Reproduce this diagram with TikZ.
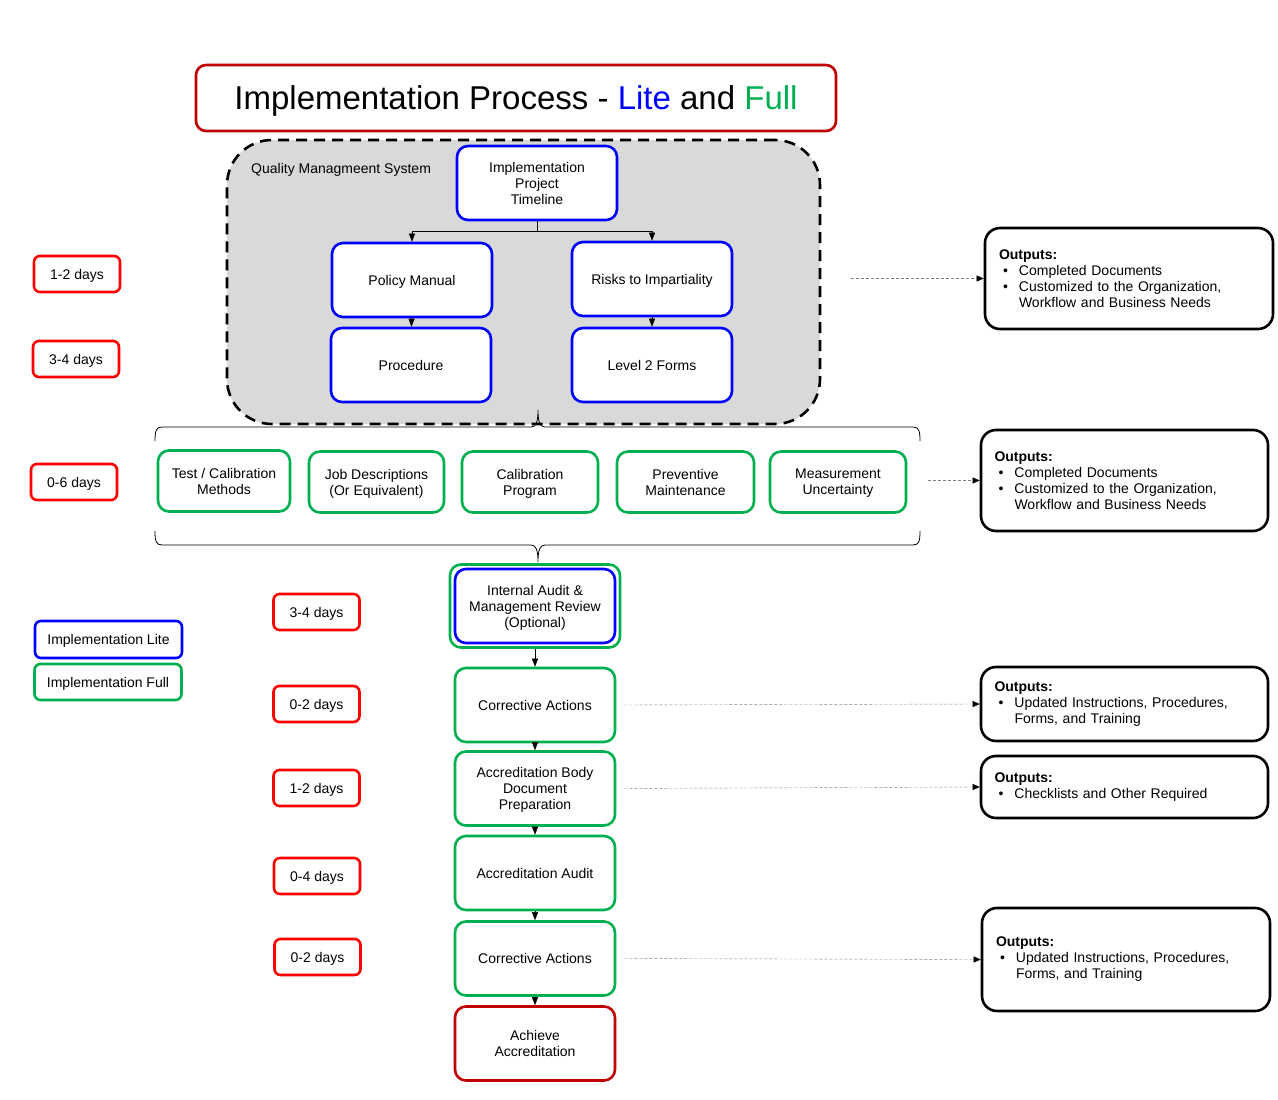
\documentclass[tikz,border=0pt]{standalone}
\usepackage{fontspec}
\setmainfont{Liberation Sans}
\usetikzlibrary{arrows.meta,positioning,calc}
\usepackage{xcolor}

\definecolor{liteblue}{HTML}{0000FF}
\definecolor{fullgreen}{HTML}{00B050}
\definecolor{titlered}{HTML}{C00000}
\definecolor{dayred}{HTML}{FF0000}
\definecolor{qmsgray}{HTML}{D9D9D9}

\newcommand{\outhead}{\textbf{Outputs:}}
\newcommand{\outbullet}{\hspace*{4pt}\makebox[16pt][l]{\textbullet}}
\newcommand{\outcont}{\hspace*{20pt}}

\begin{document}
\begin{tikzpicture}[x=1pt, y=-1pt, font=\fontsize{14}{16}\selectfont,
  >={Triangle[length=8pt,width=6pt]},
  litebox/.style={draw=liteblue, line width=2.6pt, rounded corners=11pt, fill=white,
    align=center, minimum width=160pt, minimum height=74pt, inner sep=2pt, text depth=0pt},
  fullbox/.style={litebox, draw=fullgreen},
  goalbox/.style={litebox, draw=titlered},
  rowbox/.style={fullbox, minimum width=136pt, minimum height=61pt},
  daybox/.style={draw=dayred, line width=2.6pt, rounded corners=6pt, fill=white,
    minimum width=86pt, minimum height=36pt, inner sep=2pt, text depth=0pt},
  keybox/.style={line width=2.6pt, rounded corners=6pt, fill=white,
    minimum width=147pt, minimum height=37pt, inner sep=2pt, text depth=0pt},
  outbox/.style={draw=black, line width=2.6pt, rounded corners=15pt, fill=white,
    minimum width=288pt, text width=260pt, align=left, inner sep=0pt},
  flow/.style={->, thin, black},
  outlink/.style={draw=gray, thin, dash pattern=on 3pt off 2pt,
    -{Triangle[black,length=7pt,width=6pt]}},
  bracket/.style={draw=black, line width=0.8pt}]

  \useasboundingbox (0,0) rectangle (1278,1100);

  %% Title
  \node[draw=titlered, line width=2.6pt, rounded corners=10pt, minimum width=640pt,
    minimum height=66pt, text depth=0pt, font=\fontsize{33}{40}\selectfont] (title) at (516,98)
    {Implementation Process - \textcolor{liteblue}{Lite} and \textcolor{fullgreen}{Full}};

  %% Quality management system (Lite part)
  \node[draw=black, fill=qmsgray, line width=2.6pt, dash pattern=on 11pt off 7pt,
    rounded corners=45pt, minimum width=593pt, minimum height=284pt] (qms) at (523.5,282) {};
  \node[anchor=west, inner sep=0pt, text depth=0pt] (qmslabel) at (251,168) {Quality Managmeent System};

  \node[litebox] (timeline) at (537,183) {Implementation\\Project\\Timeline};
  \node[litebox] (policy) at (412,280) {Policy Manual};
  \node[litebox] (risks) at (652,279) {Risks to Impartiality};
  \node[litebox] (proc) at (411,365) {Procedure};
  \node[litebox] (forms) at (652,365) {Level 2 Forms};

  \draw[flow] (timeline.south) -- ++(0,10) -| (policy.north);
  \draw[flow] (timeline.south) -- ++(0,10) -| (risks.north);
  \draw[flow] (policy) -- (proc);
  \draw[flow] (risks) -- (forms);

  %% Full part: supporting documents
  \node[rowbox, minimum width=132pt] (methods) at (224,481) {Test / Calibration\\Methods};
  \node[rowbox, minimum width=135pt] (jobs) at (376.5,482) {Job Descriptions\\(Or Equivalent)};
  \node[rowbox] (calprog) at (530,482) {Calibration\\Program};
  \node[rowbox, minimum width=137pt] (maint) at (685.5,482) {Preventive\\Maintenance};
  \node[rowbox] (uncert) at (838,482) {Measurement\\Uncertainty};

  %% brackets round the row
  \draw[bracket] (155,441) .. controls (155,431) and (156,427) .. (162,427) -- (531,427)
    .. controls (536,427) and (538,422) .. (538,410)
    .. controls (538,422) and (540,427) .. (545,427) -- (913,427)
    .. controls (919,427) and (920,431) .. (920,441);
  \draw[bracket] (155,531) .. controls (155,541) and (156,545) .. (162,545) -- (531,545)
    .. controls (536,545) and (538,550) .. (538,562)
    .. controls (538,550) and (540,545) .. (545,545) -- (913,545)
    .. controls (919,545) and (920,541) .. (920,531);

  %% Audit and accreditation flow
  \node[fullbox, minimum width=170pt, minimum height=83pt] (auditfull) at (535,606) {};
  \node[litebox, minimum width=160pt, minimum height=74pt] (audit) at (535,606)
    {Internal Audit \&\\Management Review\\(Optional)};
  \node[fullbox] (correct1) at (535,705) {Corrective Actions};
  \node[fullbox] (abprep) at (535,788.5) {Accreditation Body\\Document\\Preparation};
  \node[fullbox] (abaudit) at (535,873) {Accreditation Audit};
  \node[fullbox] (correct2) at (535,958.5) {Corrective Actions};
  \node[goalbox] (achieve) at (535,1043.5) {Achieve\\Accreditation};

  \draw[flow] (auditfull) -- (correct1);
  \draw[flow] (correct1) -- (abprep);
  \draw[flow] (abprep) -- (abaudit);
  \draw[flow] (abaudit) -- (correct2);
  \draw[flow] (correct2) -- (achieve);

  %% Outputs
  \node[outbox, minimum height=101pt] (out1) at (1129,278.5)
    {\outhead\\\outbullet Completed Documents\\\outbullet Customized to the Organization,\\\outcont Workflow and Business Needs};
  \node[outbox, minimum width=287pt, minimum height=101pt] (out2) at (1124.5,480.5)
    {\outhead\\\outbullet Completed Documents\\\outbullet Customized to the Organization,\\\outcont Workflow and Business Needs};
  \node[outbox, minimum width=287pt, minimum height=74pt] (out3) at (1124.5,704)
    {\outhead\\\outbullet Updated Instructions, Procedures,\\\outcont Forms, and Training};
  \node[outbox, minimum width=287pt, minimum height=62pt] (out4) at (1124.5,787)
    {\outhead\\\outbullet Checklists and Other Required};
  \node[outbox, minimum height=103pt] (out5) at (1126,959.5)
    {\outhead\\\outbullet Updated Instructions, Procedures,\\\outcont Forms, and Training};

  \draw[outlink, shorten <=30pt] (qms.east |- out1) -- (out1.west);
  \draw[outlink, shorten <=21pt] (uncert.east |- out2) -- (out2.west);
  \draw[outlink, shorten <=8pt] (correct1.east) -- (out3.west);
  \draw[outlink, shorten <=8pt] (abprep.east) -- (out4.west);
  \draw[outlink, shorten <=8pt] (correct2.east) -- (out5.west);

  %% Durations
  \foreach \n/\x/\y/\t in {1/77/274/1-2, 2/76/359/3-4, 3/74/482/0-6, 4/316.5/612/3-4,
    5/316.5/704/0-2, 6/316.5/788/1-2, 7/317/876/0-4, 8/317.5/957/0-2}{
    \node[daybox] (days\n) at (\x,\y) {\t\ days};
  }

  %% Legend
  \node[keybox, draw=liteblue] (keylite) at (108.5,639.5) {Implementation Lite};
  \node[keybox, draw=fullgreen, minimum height=36pt] (keyfull) at (108,682) {Implementation Full};

\end{tikzpicture}
\end{document}
